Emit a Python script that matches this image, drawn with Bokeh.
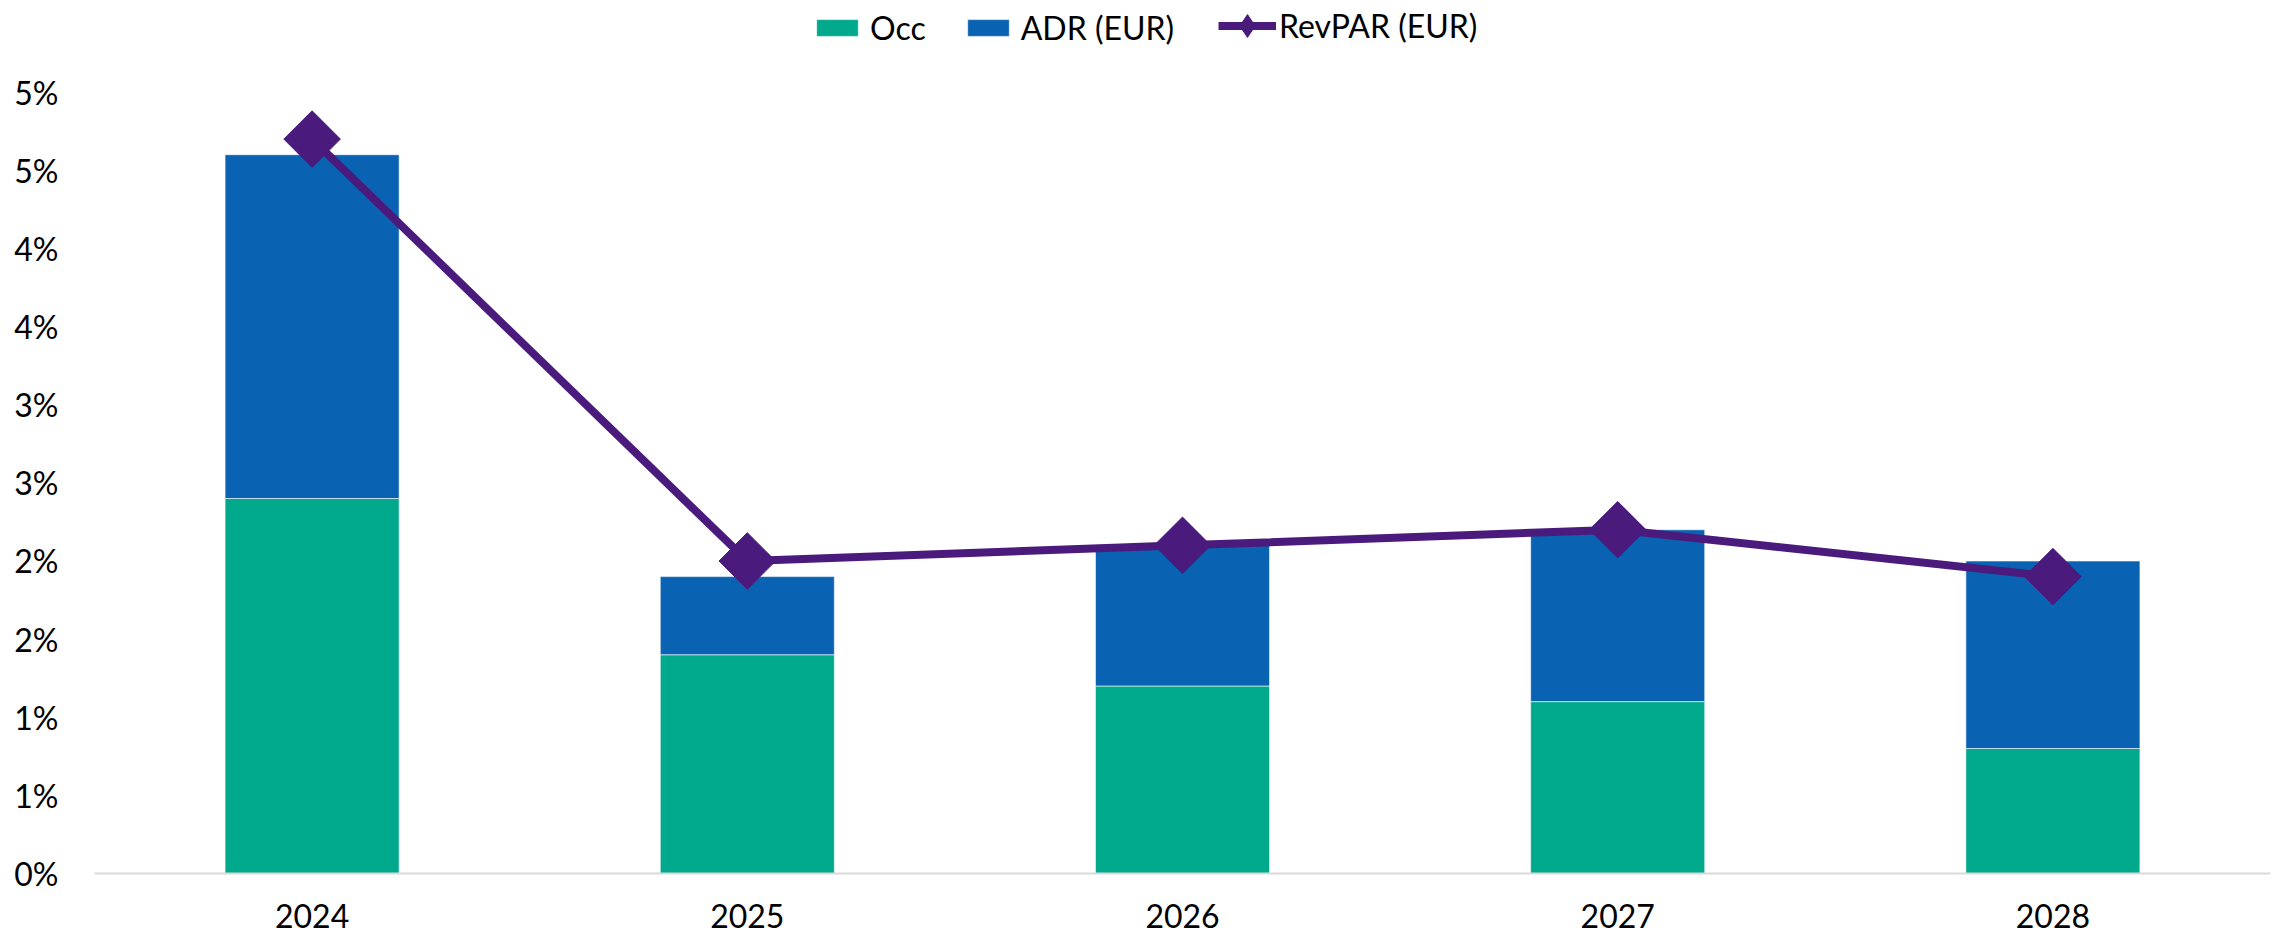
import math
from bokeh.plotting import figure
from bokeh.models import (ColumnDataSource, FactorRange, Range1d, FixedTicker,
                          Legend, LegendItem)
from bokeh.core.properties import value
from bokeh.embed import file_html
from bokeh.resources import INLINE

# ---- data ----
years = ["2024", "2025", "2026", "2027", "2028"]
occ = [2.4, 1.4, 1.2, 1.1, 0.8]          # % growth contribution
adr = [2.2, 0.5, 0.9, 1.1, 1.2]          # % growth contribution
revpar = [4.7, 2.0, 2.1, 2.2, 1.9]       # % growth
y_ticks = [0.0, 0.5, 1.0, 1.5, 2.0, 2.5, 3.0, 3.5, 4.0, 4.5, 5.0]
y_tick_labels = ["0%", "1%", "1%", "2%", "2%", "3%", "3%", "4%", "4%", "5%", "5%"]
series_names = ["Occ", "ADR (EUR)", "RevPAR (EUR)"]

# ---- style ----
OCC_C = "#00A88C"
ADR_C = "#0962B2"
REV_C = "#4A1A7D"
FONT = "Lato"
FS = "32px"

src = ColumnDataSource(dict(years=years, occ=occ, adr=adr, revpar=revpar))

# frame extends to the top of the canvas so the legend can sit inside it;
# the visible scale still tops out at the 5% tick
p = figure(width=2277, height=935, x_range=FactorRange(*years),
           y_range=Range1d(0, 5.587), output_backend="svg", toolbar_location=None,
           min_border_left=94, min_border_right=7, min_border_top=0,
           min_border_bottom=62)
p.outline_line_color = None
p.xgrid.grid_line_color = None
p.ygrid.grid_line_color = None

bars = p.vbar_stack(["occ", "adr"], x="years", width=0.4, source=src,
                    fill_color=[OCC_C, ADR_C], line_color="white",
                    line_width=1, line_alpha=0.6)
ln = p.line("years", "revpar", source=src, line_width=8, line_color=REV_C)
sc = p.scatter("years", "revpar", source=src, marker="square", size=40,
               angle=math.pi / 4, fill_color=REV_C, line_color=REV_C)
# zero-size twin of the markers, used only for the legend symbol
sc_leg = p.scatter("years", "revpar", source=src, marker="diamond", size=0,
                   fill_color=REV_C, line_color=REV_C)

# axes
xa = p.xaxis[0]
xa.axis_line_color = "#d9d9d9"
xa.axis_line_width = 2
xa.major_tick_line_color = None
xa.minor_tick_line_color = None
xa.major_tick_out = 0
xa.minor_tick_out = 0
xa.major_label_text_font = FONT
xa.major_label_text_font_size = FS
xa.major_label_text_color = "black"
xa.major_label_standoff = 30

ya = p.yaxis[0]
ya.ticker = FixedTicker(ticks=y_ticks)
ya.major_label_overrides = dict(zip(y_ticks, y_tick_labels))
ya.axis_line_color = None
ya.major_tick_line_color = None
ya.minor_tick_line_color = None
ya.major_tick_out = 0
ya.minor_tick_out = 0
ya.major_label_text_font = FONT
ya.major_label_text_font_size = FS
ya.major_label_text_color = "black"
ya.major_label_standoff = 36

common = dict(orientation="horizontal", padding=0, margin=0,
              label_text_font=FONT, label_text_font_size=FS,
              label_text_color="black", border_line_color=None,
              background_fill_alpha=0)
legend1 = Legend(items=[LegendItem(label=value(series_names[0]), renderers=[bars[0]]),
                        LegendItem(label=value(series_names[1]), renderers=[bars[1]])],
                 location=(717, 826), spacing=36, label_standoff=7,
                 glyph_width=52, glyph_height=21, **common)
legend2 = Legend(items=[LegendItem(label=value(series_names[2]), renderers=[ln, sc_leg])],
                 location=(1124, 819), label_standoff=3,
                 glyph_width=58, glyph_height=57, **common)
p.add_layout(legend1)
p.add_layout(legend2)

open("out.html", "w").write(file_html(p, INLINE))
